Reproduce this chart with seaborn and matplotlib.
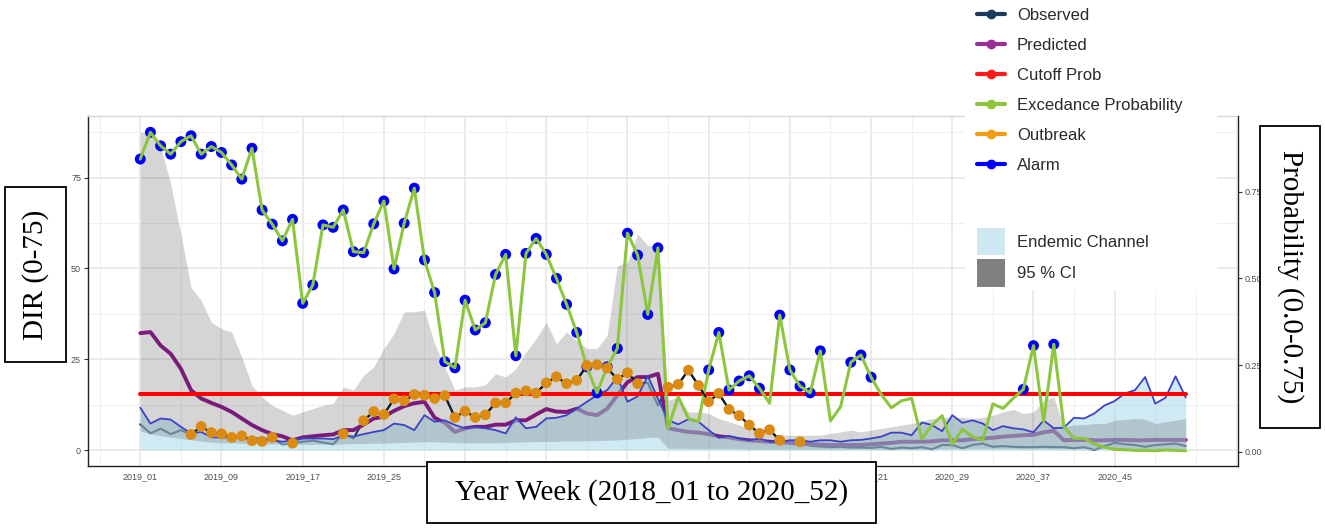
import numpy as np
import pandas as pd
import matplotlib
matplotlib.use("Agg")
import matplotlib.pyplot as plt
import seaborn as sns
from matplotlib.lines import Line2D
from matplotlib.patches import Patch, Rectangle
from matplotlib.ticker import MultipleLocator, FixedLocator

# ---------------- data ----------------
years = [2019, 2020]
weeks_per_year = 52
week_labels = [f"{y}_{w:02d}" for y in years for w in range(1, weeks_per_year + 1)]

observed = [7.1, 4.6, 5.9, 4.4, 5.5, 4.3, 6.5, 4.8, 4.5, 3.5, 3.9, 2.6, 2.4, 3.5, 1.5, 1.9, 2.3, 2.6, 2.1, 1.6, 4.5, 3.2,
            8.1, 10.6, 9.8, 14.1, 13.6, 15.3, 15.1, 14.2, 15.0, 9.0, 10.7, 9.0, 9.7, 13.0, 13.0, 15.7, 16.3, 15.7, 18.5,
            20.2, 18.3, 19.2, 23.3, 23.5, 22.6, 19.5, 21.3, 18.3,
            18.5, 12.3, 17.3, 18.1, 22.0, 17.8, 13.3, 15.6, 11.2, 9.5, 6.9, 4.6, 5.6, 2.7, 2.2, 2.3,
            1.2, 1.0, 0.8, 0.9, 0.7, 0.7, 0.6, 0.9, 0.3, 0.7, 0.5, 0.8, 0.2, 1.4, 1.4, 0.5, 1.4, 1.8, 0.9, 1.1,
            0.9, 0.8, 0.8, 0.9, 0.8, 0.8, 0.5, 0.8, 0.0, 1.1, 2.0, 1.6, 1.4, 0.9, 1.4, 1.6, 1.8, 1.1]

predicted = [32.2, 32.5, 28.8, 26.5, 22.4, 16.5, 14.2, 13.0, 11.9, 10.5, 8.7, 6.9, 5.5, 4.4, 3.8, 2.7, 3.5, 3.8, 4.1, 4.3, 5.5,
             5.5, 7.0, 8.7, 9.2, 10.8, 12.1, 12.9, 13.3, 8.9, 7.5, 5.0, 6.0, 6.4, 6.4, 7.0, 7.0, 8.2, 8.2, 9.8, 11.3, 10.6,
             10.5, 11.4, 10.1, 9.6, 11.4, 15.1, 18.7, 20.1, 20.1, 21.0, 6.0, 5.5, 5.0, 4.8, 4.4, 3.8, 3.5, 3.0, 2.7, 2.5, 2.3,
             2.2, 2.0, 1.8, 1.6, 1.5, 1.4, 1.4, 1.4,
             1.4, 1.6, 1.8, 2.0, 2.3, 2.3, 2.3, 2.4, 2.7, 2.7, 2.7, 3.0, 3.2, 3.4, 3.7, 3.9, 4.1, 4.2, 4.9, 5.3,
             2.7, 2.8, 2.8, 2.7, 2.7, 2.8, 2.8, 2.7, 2.7, 2.8, 2.8, 2.8, 2.8]

endemic_upper = [11.7, 7.3, 8.7, 8.4, 6.4, 4.6, 5.0, 3.5, 3.5, 3.5, 3.5, 3.2, 3.2, 2.7, 2.3, 2.7, 3.2, 3.2, 3.2, 3.0, 4.1,
                 3.7, 4.4, 5.0, 5.5, 7.3, 6.9, 5.5, 9.6, 7.8, 8.2, 6.9, 6.0, 6.4, 6.0, 5.5, 4.6, 9.0, 6.0, 6.4, 8.7, 8.9,
                 9.6, 11.4, 13.3, 15.1, 16.5, 20.1, 13.3, 14.8, 20.4, 14.2, 8.2, 7.1, 8.5, 7.8, 5.5, 3.4, 3.9, 3.2, 2.7,
                 3.2, 2.3, 2.3, 2.7, 2.7, 2.3, 2.7, 2.7, 2.3, 2.7,
                 2.8, 3.2, 3.7, 4.8, 4.8, 4.1, 7.6, 6.9, 5.2, 9.6, 7.5, 8.2, 7.3, 5.5, 6.6, 6.0, 5.7, 4.9, 8.2, 6.0,
                 6.2, 8.9, 8.7, 10.1, 12.3, 13.5, 15.6, 16.5, 20.1, 12.8, 14.4, 20.3, 14.5]

ci_upper = [87.6, 87.1, 83.7, 73.2, 59.5, 44.8, 41.2, 35.2, 33.4, 32.5, 25.6, 17.8, 14.6, 12.3, 11.0, 9.6, 10.5, 11.4, 12.3,
            12.8, 17.4, 16.5, 20.6, 22.9, 28.0, 32.1, 38.1, 38.1, 38.5, 29.3, 22.9, 16.5, 17.4, 17.4, 18.0,
            21.0, 20.1, 22.4, 27.0, 30.7, 35.2, 29.3, 32.5, 30.2, 28.0, 28.0, 31.6, 50.8, 51.7, 59.5, 56.3, 56.3,
            13.7, 14.6, 10.5, 10.5, 10.1, 8.7, 7.8, 6.9, 6.0, 5.0, 4.6, 4.1, 4.1, 4.1, 4.1, 4.1, 4.6, 5.0, 5.5,
            5.0, 5.5, 6.0, 6.4, 6.9, 7.3, 8.0, 8.7, 8.9, 9.1, 9.0, 8.7, 9.0, 9.6, 10.5, 11.2, 10.1, 10.5, 13.7, 14.6,
            6.4, 6.9, 7.0, 7.3, 7.3, 8.2, 8.4, 8.7, 8.5, 7.3, 7.8, 8.2, 8.7]

ci_lower = [5.2, 4.5, 4.0, 3.6, 3.2, 2.8, 2.5, 2.2, 2.0, 2.0, 1.9, 1.8, 1.8, 1.7, 1.7, 1.6, 1.6, 1.6, 1.6, 1.6,
            1.7, 1.8, 1.8, 1.9, 1.9, 2.0, 2.1, 2.2, 2.3, 2.3, 2.2, 2.1, 2.0, 2.0, 2.0, 2.0, 2.1, 2.2, 2.3, 2.3,
            2.4, 2.4, 2.5, 2.5, 2.6, 2.6, 2.7, 2.8, 3.0, 3.2, 3.5, 3.6,
            0.5, 0.5, 0.5, 0.4, 0.4, 0.4, 0.4, 0.4, 0.3, 0.3, 0.3, 0.3, 0.3, 0.3, 0.3, 0.3, 0.3, 0.3, 0.3, 0.3,
            0.3, 0.3, 0.3, 0.3, 0.3, 0.3, 0.4, 0.4, 0.4, 0.4, 0.4, 0.4, 0.4, 0.4, 0.4, 0.4, 0.4, 0.4, 0.4, 0.4,
            0.4, 0.4, 0.4, 0.4, 0.4, 0.4, 0.4, 0.4, 0.4, 0.4, 0.4, 0.4]

exceedance_prob = [0.844, 0.921, 0.882, 0.858, 0.894, 0.911, 0.858, 0.880, 0.863, 0.827, 0.786, 0.875, 0.697, 0.656,
                   0.608, 0.670, 0.428, 0.481, 0.654, 0.647, 0.697, 0.577, 0.574, 0.657, 0.723, 0.527, 0.659, 0.760,
                   0.553, 0.459, 0.260, 0.242, 0.437, 0.351, 0.372,
                   0.511, 0.569, 0.277, 0.572, 0.615, 0.569, 0.500, 0.425, 0.344, 0.245, 0.170, 0.245, 0.298, 0.630,
                   0.567, 0.396, 0.588, 0.067, 0.159, 0.096, 0.087, 0.236, 0.344, 0.178, 0.204, 0.219, 0.183, 0.140,
                   0.394, 0.236, 0.189, 0.170, 0.291, 0.089, 0.130, 0.258, 0.279, 0.215,
                   0.165, 0.127, 0.147, 0.154, 0.037, 0.077, 0.104, 0.022, 0.065, 0.043, 0.034, 0.138, 0.125, 0.154,
                   0.180, 0.306, 0.087, 0.310, 0.072, 0.039, 0.039, 0.022, 0.013, 0.007, 0.006, 0.004, 0.004, 0.003,
                   0.005, 0.004, 0.003]

cutoff_prob = 0.166

outbreak_weeks = ([5, 6, 7, 8, 9, 10, 11, 12, 13, 15, 20] + list(range(22, 50)) + list(range(52, 64)) + [65])

# x tick labels that the x-title box hides in the reference are left blank
x_tick_weeks = list(range(0, 97, 8))
x_hidden_weeks = [32, 40, 48, 56, 64]

y_ticks_left = [0, 25, 50, 75]
y_ticks_right = [0.0, 0.25, 0.5, 0.75]
y_ticklabels_right = ["0.00", "0.25", "0.50", "0.75"]

# ---------------- frame ----------------
df = pd.DataFrame({
    "week": np.arange(len(week_labels)),
    "label": week_labels,
    "observed": observed,
    "predicted": predicted,
    "endemic_upper": endemic_upper,
    "ci_upper": ci_upper,
    "ci_lower": ci_lower,
    "prob": exceedance_prob,
})
df["alarm"] = df["prob"].where(df["prob"] > cutoff_prob)
df["outbreak"] = df["observed"].where(df["week"].isin(outbreak_weeks))

sns.set_theme(style="white")
plt.rcParams["font.family"] = ["Liberation Sans", "DejaVu Sans"]

W, H = 1325, 528
fig = plt.figure(figsize=(W / 100, H / 100), dpi=100)
fig.patch.set_facecolor("white")


def fx(px):
    return px / W


def fy(py):
    return 1 - py / H


ax = fig.add_axes([fx(88), fy(466), (1238 - 88) / W, (466 - 116) / H])
ax.set_facecolor("white")
ax.set_xlim(-5.15, 108.15)
ax.set_ylim(-4.38, 91.98)

# grid
ax.set_axisbelow(True)
ax.xaxis.set_major_locator(FixedLocator(x_tick_weeks))
ax.set_xticklabels(["" if i in x_hidden_weeks else week_labels[i] for i in x_tick_weeks])
ax.xaxis.set_minor_locator(MultipleLocator(4))
ax.yaxis.set_major_locator(FixedLocator(y_ticks_left))
ax.yaxis.set_minor_locator(MultipleLocator(12.5))
ax.grid(which="major", color="#e6e6e6", linewidth=1.1)
ax.grid(which="minor", color="#f0f0f0", linewidth=0.8)

# lines under the fills
sns.lineplot(data=df, x="week", y="observed", ax=ax, color="#1b3a5c", linewidth=1.5,
             estimator=None, sort=False, legend=False, zorder=2)
sns.lineplot(data=df, x="week", y="predicted", ax=ax, color="#8b128b", linewidth=2.8,
             estimator=None, sort=False, legend=False, zorder=2)

# endemic channel and 95% CI
ax.fill_between(df["week"], 0, df["endemic_upper"], color="#b1dcec", alpha=0.6, linewidth=0, zorder=3)
ax.fill_between(df["week"], df["ci_lower"], df["ci_upper"], color="#3c3c3c", alpha=0.21, linewidth=0, zorder=3.1)
sns.lineplot(data=df, x="week", y="endemic_upper", ax=ax, color="#3a42c6", linewidth=1.3,
             estimator=None, sort=False, legend=False, zorder=4)

ax.set_xlabel("")
ax.set_ylabel("")
ax.tick_params(axis="both", which="major", labelsize=6.5, labelcolor="#4d4d4d", color="#333333",
               length=3, width=0.8, pad=2)
ax.tick_params(axis="both", which="minor", length=0)
ax.tick_params(axis="x", pad=1.5)
for s in ["left", "bottom"]:
    ax.spines[s].set_color("#222222")
    ax.spines[s].set_linewidth(1.0)
ax.spines["top"].set_color("#d6d6d6")
ax.spines["top"].set_linewidth(0.9)
ax.spines["right"].set_visible(False)

# probability axis
ax2 = ax.twinx()
ax2.set_ylim(-0.041, 0.968)
ax2.set_yticks(y_ticks_right)
ax2.set_yticklabels(y_ticklabels_right)
ax2.tick_params(axis="y", labelsize=6.5, labelcolor="#4d4d4d", color="#333333", length=3, width=0.8, pad=2)
for s in ["left", "top", "bottom"]:
    ax2.spines[s].set_visible(False)
ax2.spines["right"].set_color("#222222")
ax2.spines["right"].set_linewidth(1.0)
ax2.grid(False)
ax2.axhline(cutoff_prob, xmin=(0 + 5.15) / 113.3, xmax=(103 + 5.15) / 113.3, color="#ff0000", linewidth=2.9, zorder=3)
sns.scatterplot(data=df, x="week", y="alarm", ax=ax2, color="#0000ff", s=62, edgecolor="none",
                legend=False, zorder=4)
sns.lineplot(data=df, x="week", y="prob", ax=ax2, color="#8cc63f", linewidth=2.2,
             estimator=None, sort=False, legend=False, zorder=5)
ax2.set_ylabel("")

# outbreak overlay (same DIR scale)
ax3 = ax.twinx()
ax3.set_ylim(ax.get_ylim())
ax3.axis("off")
ax3.plot(df["week"], df["outbreak"], color="#0f1b2e", linewidth=1.5, zorder=2)
sns.scatterplot(data=df, x="week", y="outbreak", ax=ax3, color="#dc8b12", s=60, edgecolor="none",
                legend=False, zorder=3)

# legend background (covers panel corner)
fig.add_artist(Rectangle((fx(965), fy(290)), (1217 - 965) / W, 290 / H, transform=fig.transFigure,
                         facecolor="white", edgecolor="none", zorder=20))

leg_handles = [
    Line2D([0], [0], color="#1b3a5c", lw=3, marker="o", markersize=6),
    Line2D([0], [0], color="#9a2f9a", lw=3, marker="o", markersize=6),
    Line2D([0], [0], color="#ff1a1a", lw=3, marker="o", markersize=6),
    Line2D([0], [0], color="#8cc63f", lw=3, marker="o", markersize=6),
    Line2D([0], [0], color="#f39c12", lw=3, marker="o", markersize=6),
    Line2D([0], [0], color="#0000ff", lw=3, marker="o", markersize=6),
]
leg_labels = ["Observed", "Predicted", "Cutoff Prob", "Excedance Probability", "Outbreak", "Alarm"]
leg1 = fig.legend(leg_handles, leg_labels, loc="upper left", bbox_to_anchor=(fx(977), fy(8)),
                  frameon=False, fontsize=12, handlelength=1.68, handletextpad=0.72, labelspacing=0.9,
                  borderpad=0, borderaxespad=0)
leg1.set_zorder(21)
for t in leg1.get_texts():
    t.set_color("#2a2a2a")

patch_handles = [Patch(facecolor="#cfe9f3", edgecolor="none"), Patch(facecolor="#808080", edgecolor="none")]
leg2 = fig.legend(patch_handles, ["Endemic Channel", "95 % CI"], loc="upper left",
                  bbox_to_anchor=(fx(977), fy(228)), frameon=False, fontsize=12, handlelength=1.68,
                  handleheight=2.14, handletextpad=0.72, labelspacing=0.25, borderpad=0, borderaxespad=0)
leg2.set_zorder(21)
for t in leg2.get_texts():
    t.set_color("#2a2a2a")

# boxed axis titles
serif = ["Liberation Serif", "DejaVu Serif"]


def boxed(x0, y0, x1, y1, text, rot):
    fig.add_artist(Rectangle((fx(x0), fy(y1)), (x1 - x0) / W, (y1 - y0) / H, transform=fig.transFigure,
                             facecolor="white", edgecolor="black", linewidth=1.3, zorder=30))
    fig.text(fx((x0 + x1) / 2), fy((y0 + y1) / 2), text, ha="center", va="center", rotation=rot,
             fontsize=21, family=serif, color="black", zorder=31, rotation_mode="anchor")


boxed(5, 187, 66, 362, "DIR (0-75)", 90)
boxed(1260, 126, 1320, 428, "Probability (0.0-0.75)", 270)
boxed(427, 462, 876, 523, "Year Week (2018_01 to 2020_52)", 0)

fig.savefig("out.png", dpi=100, facecolor="white")
